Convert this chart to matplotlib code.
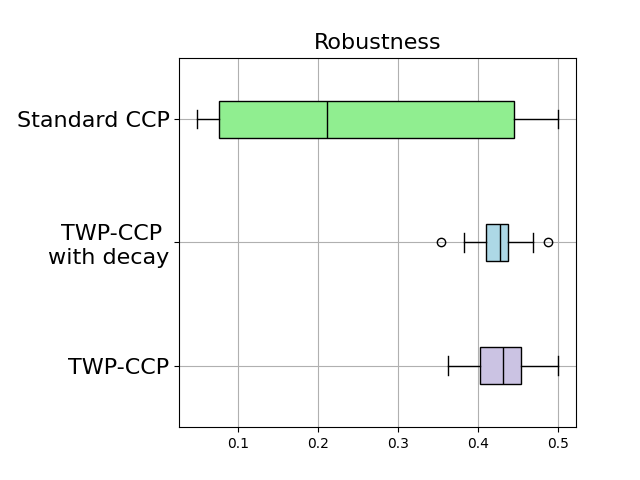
import matplotlib
matplotlib.use("Agg")
import matplotlib.pyplot as plt

labels = ["TWP-CCP", "TWP-CCP \nwith decay", "Standard CCP"]
colors = ["#CBC3E3", "lightblue", "lightgreen"]

# five-number summaries (bottom to top)
whislo = [0.362, 0.3825, 0.049]
q1 = [0.402, 0.4095, 0.0767]
med = [0.431, 0.4275, 0.211]
q3 = [0.4534, 0.4375, 0.445]
whishi = [0.500, 0.4684, 0.500]
fliers = [[], [0.3534, 0.4875], []]

stats = []
for i in range(len(labels)):
    stats.append({
        "label": labels[i],
        "whislo": whislo[i], "q1": q1[i], "med": med[i],
        "q3": q3[i], "whishi": whishi[i], "fliers": fliers[i],
    })

fig, ax = plt.subplots(figsize=(6.4, 4.8), dpi=100)
bp = ax.bxp(stats, orientation="horizontal", widths=0.3, patch_artist=True,
            medianprops={"color": "black"})
for patch, c in zip(bp["boxes"], colors):
    patch.set_facecolor(c)

ax.set_title("Robustness", fontsize=16)
ax.tick_params(axis="y", labelsize=16)
ax.grid(True)
ax.set_axisbelow(True)
plt.subplots_adjust(left=0.28)
fig.savefig("out.png")
